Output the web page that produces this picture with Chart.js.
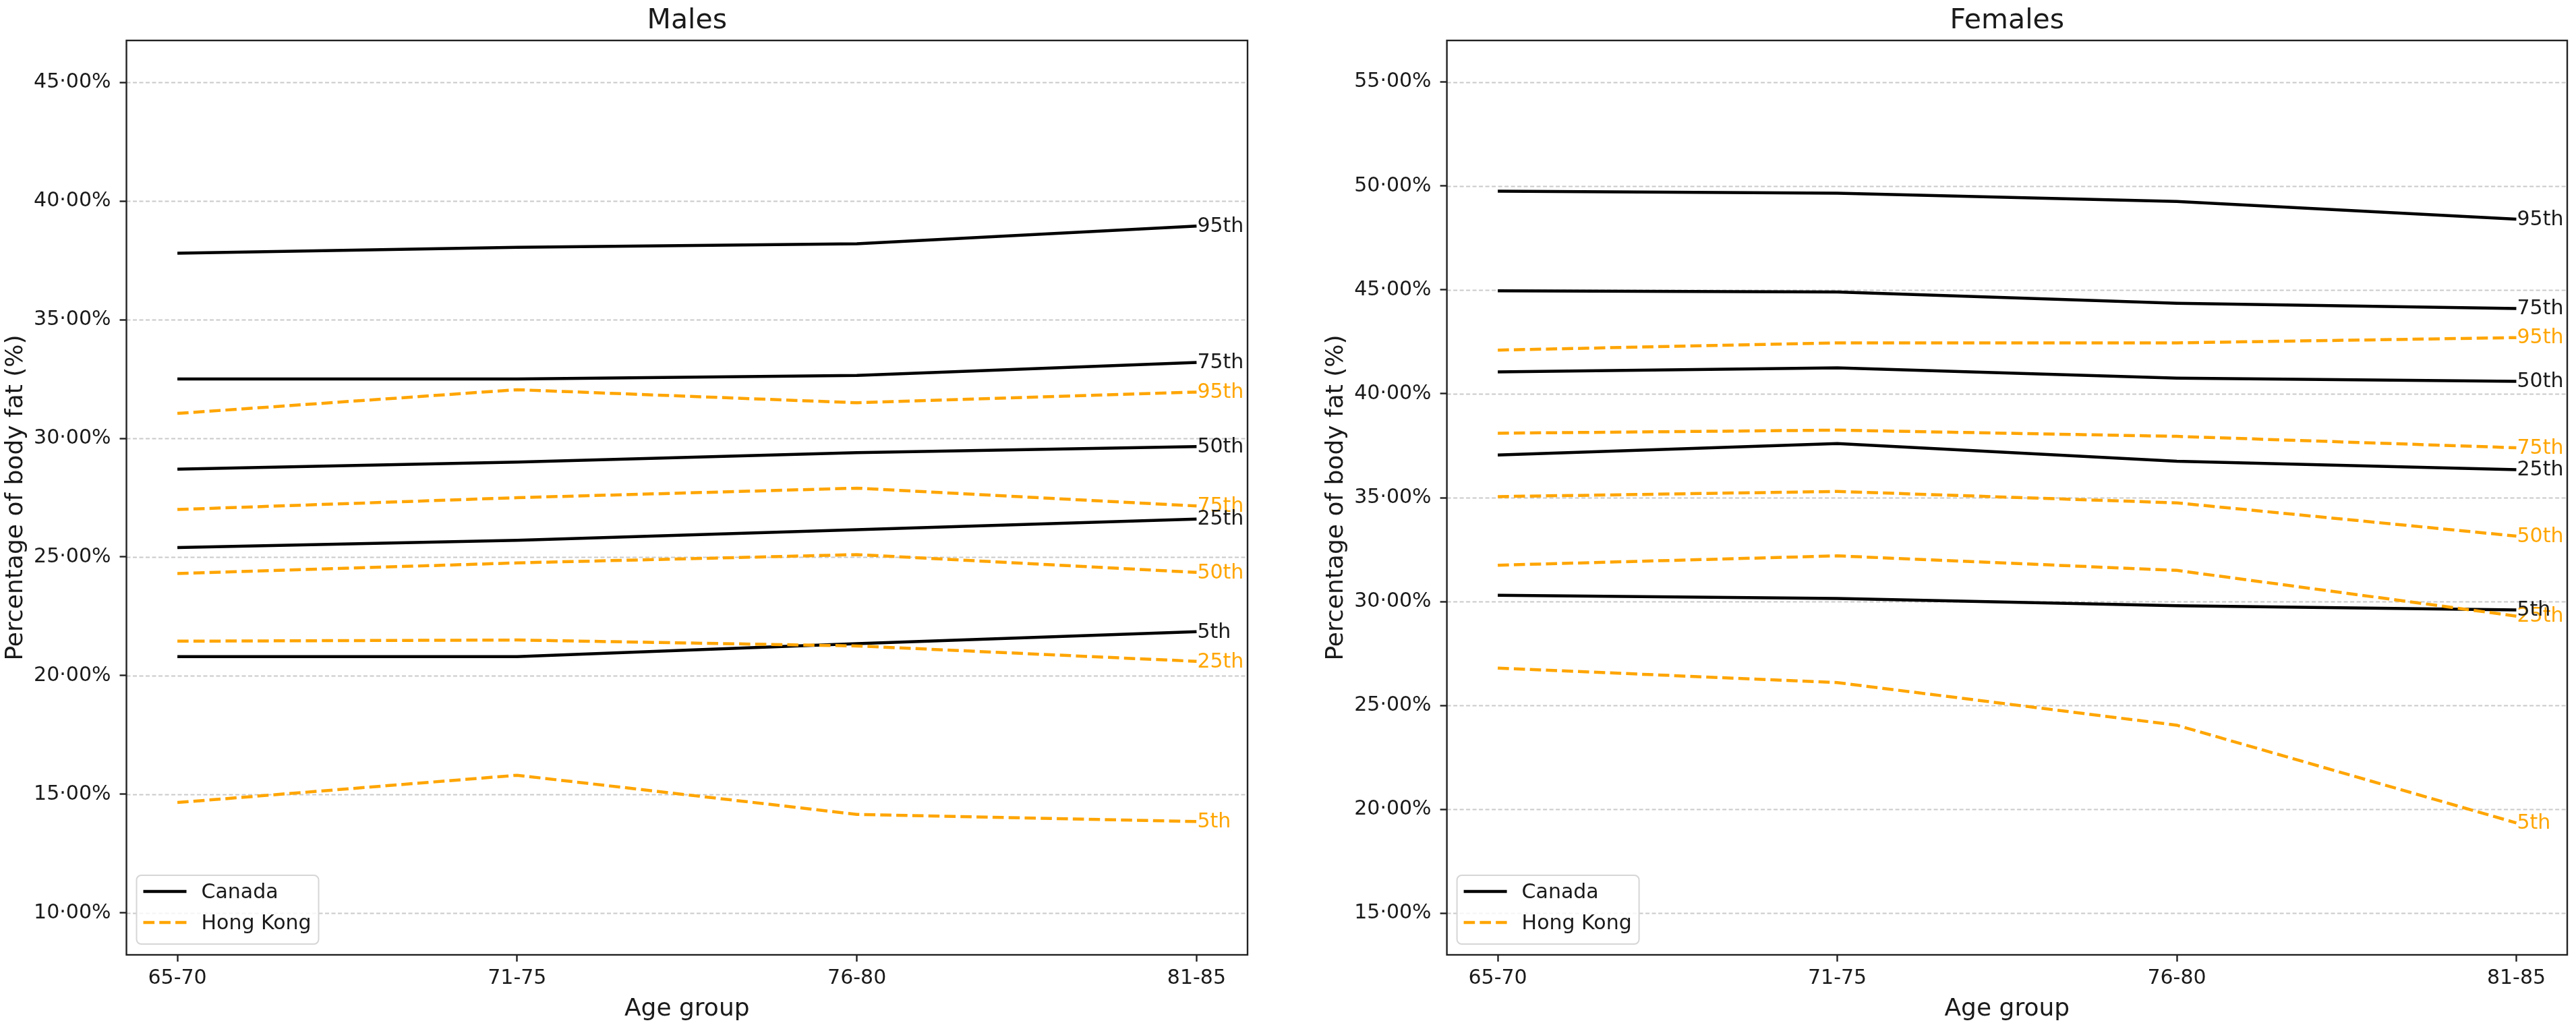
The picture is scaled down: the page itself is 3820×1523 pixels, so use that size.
<!DOCTYPE html>
<html>
<head>
<meta charset="utf-8">
<script src="https://cdn.jsdelivr.net/npm/chart.js@4.4.1/dist/chart.umd.min.js"></script>
<style>
  html, body { margin: 0; padding: 0; background: #fff; }
  #wrap { position: relative; width: 3820px; height: 1523px; }
  canvas { position: absolute; top: 0; }
</style>
</head>
<body>
<div id="wrap">
  <canvas id="males" width="1910" height="1523" style="left:0"></canvas>
  <canvas id="females" width="1910" height="1523" style="left:1910px"></canvas>
</div>
<script>
// ---- data (percent body fat) ----
const ageGroups = ['65-70', '71-75', '76-80', '81-85'];
const percentiles = ['5th', '25th', '50th', '75th', '95th'];

// rows follow the percentiles list
const maleCanada = [
  [20.8, 20.8, 21.35, 21.85],
  [25.4, 25.7, 26.15, 26.6],
  [28.7, 29.0, 29.4, 29.65],
  [32.5, 32.5, 32.65, 33.2],
  [37.8, 38.05, 38.2, 38.95],
];
const maleHongKong = [
  [14.65, 15.8, 14.15, 13.85],
  [21.45, 21.5, 21.25, 20.6],
  [24.3, 24.75, 25.1, 24.35],
  [27.0, 27.5, 27.9, 27.15],
  [31.05, 32.05, 31.5, 31.95],
];
const femaleCanada = [
  [30.3, 30.15, 29.8, 29.6],
  [37.05, 37.6, 36.75, 36.35],
  [41.05, 41.25, 40.75, 40.6],
  [44.95, 44.9, 44.35, 44.1],
  [49.75, 49.65, 49.25, 48.4],
];
const femaleHongKong = [
  [26.8, 26.1, 24.05, 19.35],
  [31.75, 32.2, 31.5, 29.3],
  [35.05, 35.3, 34.75, 33.15],
  [38.1, 38.25, 37.95, 37.4],
  [42.1, 42.45, 42.45, 42.7],
];

const maleTicks = [10, 15, 20, 25, 30, 35, 40, 45];
const femaleTicks = [15, 20, 25, 30, 35, 40, 45, 50, 55];

const FONT = "'DejaVu Sans', 'Liberation Sans', sans-serif";
const BLACK = '#000000';
const ORANGE = '#FFA500';
const TEXT = '#1a1a1a';

function pctLabel(v) {
  return v.toFixed(2).replace('.', '\u00B7') + '%';
}

function buildDatasets(canada, hk) {
  const sets = [];
  // Hong Kong first so Canada sits on top, like the original
  hk.forEach((row, i) => {
    sets.push({
      label: percentiles[i],
      country: 'Hong Kong',
      data: row.map((v, j) => ({ x: j, y: v })),
      borderColor: ORANGE,
      borderWidth: 4.5,
      borderDash: [16.6, 7.2],
      pointRadius: 0,
      tension: 0,
      fill: false,
    });
  });
  canada.forEach((row, i) => {
    sets.push({
      label: percentiles[i],
      country: 'Canada',
      data: row.map((v, j) => ({ x: j, y: v })),
      borderColor: BLACK,
      borderWidth: 4.5,
      pointRadius: 0,
      tension: 0,
      fill: false,
    });
  });
  return sets;
}

const panelPlugin = {
  id: 'panel',
  beforeDraw(chart) {
    const ctx = chart.ctx;
    ctx.save();
    ctx.fillStyle = '#fff';
    ctx.fillRect(0, 0, chart.width, chart.height);
    ctx.restore();
  },
  beforeDatasetsDraw(chart) {
    // dashed horizontal grid
    const { ctx, chartArea: a } = chart;
    const ys = chart.scales.y;
    ctx.save();
    ctx.strokeStyle = 'rgba(180,180,180,0.7)';
    ctx.lineWidth = 2;
    ctx.setLineDash([6, 3.5]);
    ys.ticks.forEach(t => {
      const y = Math.round(ys.getPixelForValue(t.value)) + 0.5;
      ctx.beginPath();
      ctx.moveTo(a.left, y);
      ctx.lineTo(a.right, y);
      ctx.stroke();
    });
    ctx.restore();
  },
  afterDatasetsDraw(chart) {
    // percentile labels at the end of each line
    const ctx = chart.ctx;
    ctx.save();
    ctx.font = '30px ' + FONT;
    ctx.textAlign = 'left';
    ctx.textBaseline = 'middle';
    chart.data.datasets.forEach((ds, i) => {
      const meta = chart.getDatasetMeta(i);
      const pt = meta.data[meta.data.length - 1];
      ctx.fillStyle = ds.country === 'Canada' ? TEXT : ORANGE;
      ctx.fillText(ds.label, pt.x + 1, pt.y + 1);
    });
    ctx.restore();
  },
  afterDraw(chart, args, opts) {
    const { ctx, chartArea: a } = chart;
    ctx.save();
    // frame
    ctx.strokeStyle = '#222';
    ctx.lineWidth = 2.4;
    ctx.strokeRect(a.left, a.top, a.right - a.left, a.bottom - a.top);

    // title and axis titles
    ctx.fillStyle = TEXT;
    ctx.textAlign = 'center';
    ctx.textBaseline = 'alphabetic';
    ctx.font = '41px ' + FONT;
    ctx.fillText(opts.title, (a.left + a.right) / 2, 41.5);
    ctx.font = '36px ' + FONT;
    ctx.fillText('Age group', (a.left + a.right) / 2, 1506);
    ctx.save();
    ctx.translate(a.left - 155, (a.top + a.bottom) / 2);
    ctx.rotate(-Math.PI / 2);
    ctx.fillText('Percentage of body fat (%)', 0, 0);
    ctx.restore();

    // legend
    const x0 = a.left + 15, y0 = a.bottom - 118, w = 270, h = 102;
    ctx.beginPath();
    ctx.roundRect(x0, y0, w, h, 7);
    ctx.fillStyle = 'rgba(255,255,255,0.8)';
    ctx.fill();
    ctx.strokeStyle = '#d6d6d6';
    ctx.lineWidth = 2;
    ctx.stroke();
    const entries = [
      { name: 'Canada', color: BLACK, dash: [] },
      { name: 'Hong Kong', color: ORANGE, dash: [16.6, 7.2] },
    ];
    entries.forEach((e, k) => {
      const y = y0 + 24 + k * 46;
      ctx.beginPath();
      ctx.setLineDash(e.dash);
      ctx.strokeStyle = e.color;
      ctx.lineWidth = 4.5;
      ctx.moveTo(x0 + 10, y);
      ctx.lineTo(x0 + 74, y);
      ctx.stroke();
      ctx.setLineDash([]);
      ctx.fillStyle = TEXT;
      ctx.font = '30px ' + FONT;
      ctx.textAlign = 'left';
      ctx.textBaseline = 'middle';
      ctx.fillText(e.name, x0 + 96, y + 2);
    });
    ctx.restore();
  },
};

function makePanel(id, title, canada, hk, ticks, yMin, yMax, leftW, rightPad) {
  return new Chart(document.getElementById(id), {
    type: 'line',
    data: { datasets: buildDatasets(canada, hk) },
    plugins: [panelPlugin],
    options: {
      responsive: false,
      animation: false,
      devicePixelRatio: 1,
      layout: { padding: { top: 60, right: rightPad, bottom: 0, left: 0 } },
      scales: {
        x: {
          type: 'linear',
          min: -0.15,
          max: 3.15,
          afterBuildTicks: s => { s.ticks = ageGroups.map((_, i) => ({ value: i })); },
          afterFit: s => { s.height = 107; },
          ticks: {
            autoSkip: false,
            maxRotation: 0,
            padding: 7,
            color: TEXT,
            font: { family: FONT, size: 30 },
            callback: v => ageGroups[v],
          },
          grid: { display: true, drawOnChartArea: false, drawTicks: true, tickLength: 10, tickWidth: 2.4, tickColor: '#222' },
          border: { display: false },
        },
        y: {
          type: 'linear',
          min: yMin,
          max: yMax,
          afterBuildTicks: s => { s.ticks = ticks.map(v => ({ value: v })); },
          afterFit: s => { s.width = leftW; },
          ticks: {
            autoSkip: false,
            padding: 13,
            color: TEXT,
            font: { family: FONT, size: 30 },
            callback: v => pctLabel(v),
          },
          grid: { display: true, drawOnChartArea: false, drawTicks: true, tickLength: 10, tickWidth: 2.4, tickColor: '#222' },
          border: { display: false },
        },
      },
      plugins: {
        legend: { display: false },
        tooltip: { enabled: false },
        title: { display: false },
        panel: { title: title },
      },
    },
  });
}

makePanel('males', 'Males', maleCanada, maleHongKong, maleTicks, 8.23, 46.77, 187.5, 60);
makePanel('females', 'Females', femaleCanada, femaleHongKong, femaleTicks, 13.0, 57.0, 235.6, 13);
</script>
</body>
</html>
